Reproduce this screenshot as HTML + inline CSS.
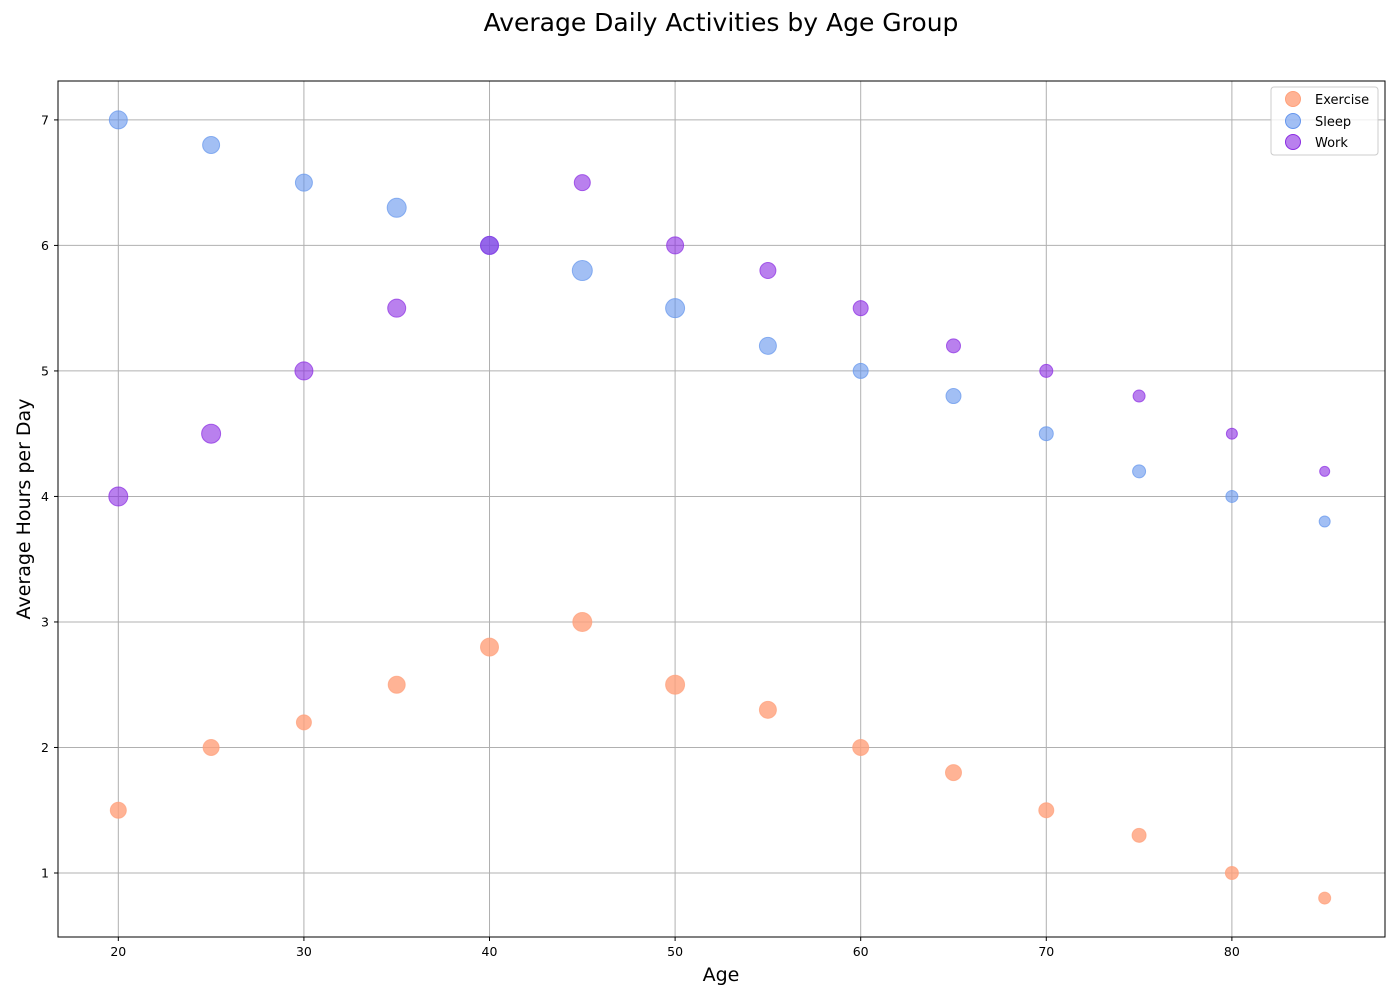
<!DOCTYPE html>
<html><head><meta charset="utf-8"><style>
body{margin:0;background:#fff;}
svg text{font-family:"DejaVu Sans","Liberation Sans",sans-serif;}
</style></head><body>
<svg id="chart" width="1400" height="1000">
<rect width="1400" height="1000" fill="#fff"/>
<text x="721" y="31" font-size="25" text-anchor="middle">Average Daily Activities by Age Group</text>
<g id="grid"></g>
<g id="points"></g>
<rect x="58" y="81" width="1327" height="856" fill="none" stroke="#000" stroke-width="1"/>
<g id="ticks"></g>
<text x="721" y="981" font-size="19" text-anchor="middle">Age</text>
<text x="0" y="0" font-size="19" text-anchor="middle" transform="translate(30,509) rotate(-90)">Average Hours per Day</text>
<g>
<rect x="1271" y="87" width="107" height="68" rx="3" fill="#fff" fill-opacity="0.8" stroke="#ccc"/>
<circle cx="1293" cy="99" r="7.5" fill="#FFA07A" fill-opacity="0.8" stroke="#FFA07A"/>
<text x="1315" y="104" font-size="13">Exercise</text>
<circle cx="1293" cy="121" r="7.5" fill="#6495ED" fill-opacity="0.6" stroke="#6495ED"/>
<text x="1315" y="126" font-size="13">Sleep</text>
<circle cx="1293" cy="142" r="7.5" fill="#8A2BE2" fill-opacity="0.6" stroke="#8A2BE2"/>
<text x="1315" y="147" font-size="13">Work</text>
</g>
</svg>
<script>
const ages=[20,25,30,35,40,45,50,55,60,65,70,75,80,85];
const exercise=[1.5,2.0,2.2,2.5,2.8,3.0,2.5,2.3,2.0,1.8,1.5,1.3,1.0,0.8];
const sleep=[7.0,6.8,6.5,6.3,6.0,5.8,5.5,5.2,5.0,4.8,4.5,4.2,4.0,3.8];
const work=[4.0,4.5,5.0,5.5,6.0,6.5,6.0,5.8,5.5,5.2,5.0,4.8,4.5,4.2];
const exerciseSize=[8,8,7.5,8.5,9,9.5,9.5,8.5,8,8,7.5,7,6.5,6];
const sleepSize=[9,8.5,8.5,9.5,9,10,9.5,8.5,7.5,7.5,7,6.5,6,5.5];
const workSize=[9.5,9.5,9,9,9,8,8.5,8,7.5,7,6.5,6,5.5,5];
const xTicks=[20,30,40,50,60,70,80];
const yTicks=[1,2,3,4,5,6,7];
const NS="http://www.w3.org/2000/svg";
const L=58,R=1385,T=81,B=937;
const xmin=16.75,xmax=88.25,ymin=0.49,ymax=7.31;
const X=v=>L+(v-xmin)/(xmax-xmin)*(R-L);
const Y=v=>B-(v-ymin)/(ymax-ymin)*(B-T);
const grid=document.getElementById('grid'),ticks=document.getElementById('ticks'),pts=document.getElementById('points');
function mk(tag,attrs,parent){const e=document.createElementNS(NS,tag);for(const k in attrs)e.setAttribute(k,attrs[k]);parent.appendChild(e);return e;}
xTicks.forEach(v=>{const x=X(v);
const g=mk('line',{x1:x,x2:x,y1:T,y2:B,stroke:'#b0b0b0','stroke-width':1},grid);


mk('line',{x1:x,x2:x,y1:B,y2:B+4,stroke:'#000'},ticks);
const t=mk('text',{x:x,y:B+19,'font-size':12.5,'text-anchor':'middle'},ticks);t.textContent=v;

});
yTicks.forEach(v=>{const y=Y(v);
const g=mk('line',{x1:L,x2:R,y1:y,y2:y,stroke:'#b0b0b0','stroke-width':1},grid);


mk('line',{x1:L-4,x2:L,y1:y,y2:y,stroke:'#000'},ticks);
const t=mk('text',{x:L-9,y:y+4.5,'font-size':12.5,'text-anchor':'end'},ticks);t.textContent=v;

});
function series(vals,sizes,color,op,name){vals.forEach((v,i)=>{
const c=mk('circle',{cx:X(ages[i]),cy:Y(v),r:sizes[i],fill:color,'fill-opacity':op,stroke:color,'stroke-opacity':0.7},pts);

});}
series(exercise,exerciseSize,'#FFA07A',0.8,'exercise');
series(sleep,sleepSize,'#6495ED',0.6,'sleep');
series(work,workSize,'#8A2BE2',0.6,'work');
</script>
</body></html>
